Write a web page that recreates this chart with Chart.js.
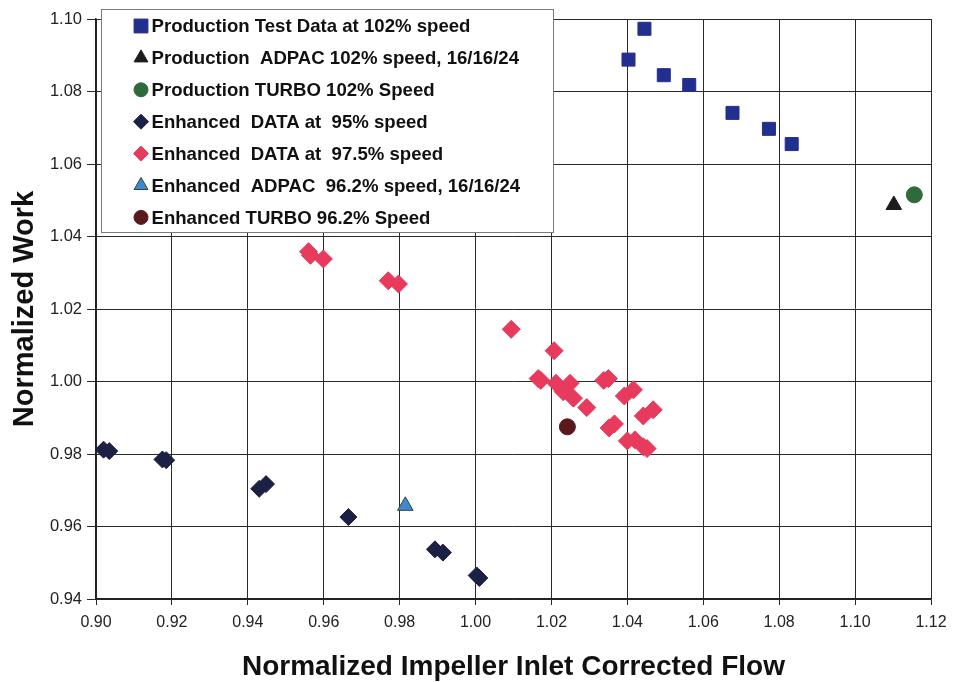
<!DOCTYPE html>
<html>
<head>
<meta charset="utf-8">
<script src="https://cdn.jsdelivr.net/npm/chart.js@4.4.1/dist/chart.umd.min.js"></script>
<style>
  body { margin: 0; background: #fff; }
  #wrap { width: 953px; height: 682px; }
</style>
</head>
<body>
<div id="wrap"><canvas id="myChart" width="953" height="682"></canvas></div>
<script>
// series labels, in legend order
const seriesNames = [
  "Production Test Data at 102% speed",
  "Production  ADPAC 102% speed, 16/16/24",
  "Production TURBO 102% Speed",
  "Enhanced  DATA at  95% speed",
  "Enhanced  DATA at  97.5% speed",
  "Enhanced  ADPAC  96.2% speed, 16/16/24",
  "Enhanced TURBO 96.2% Speed",
];

// flow (x) and work (y)
const prodTestFlow = [1.0445, 1.0403, 1.0496, 1.0563, 1.0677, 1.0773, 1.0833];
const prodTestWork = [1.0973, 1.0888, 1.0845, 1.0818, 1.0741, 1.0697, 1.0655];

const prodAdpacFlow = [1.1102];
const prodAdpacWork = [1.0487];

const prodTurboFlow = [1.1156];
const prodTurboWork = [1.0515];

const enh95Flow = [0.9020, 0.9035, 0.9175, 0.9185, 0.9430, 0.9448, 0.9665, 0.9893, 0.9914, 1.0003, 1.0010];
const enh95Work = [0.9812, 0.9808, 0.9785, 0.9783, 0.9704, 0.9717, 0.9626, 0.9537, 0.9528, 0.9465, 0.9458];

const enh975Flow = [
  0.9560, 0.9565, 0.9599, 0.9770, 0.9797, 1.0094, 1.0207, 1.0165, 1.0172,
  1.0212, 1.0249, 1.0231, 1.0258, 1.0293, 1.0338, 1.0350, 1.0392, 1.0416,
  1.0352, 1.0366, 1.0400, 1.0420, 1.0442, 1.0452, 1.0442, 1.0468,
];
const enh975Work = [
  1.0358, 1.0348, 1.0338, 1.0278, 1.0269, 1.0144, 1.0085, 1.0008, 1.0003,
  0.9995, 0.9995, 0.9972, 0.9954, 0.9928, 1.0003, 1.0008, 0.9960, 0.9977,
  0.9872, 0.9883, 0.9836, 0.9839, 0.9820, 0.9815, 0.9905, 0.9922,
];

const enhAdpacFlow = [0.9815];
const enhAdpacWork = [0.9657];

const enhTurboFlow = [1.0242];
const enhTurboWork = [0.9875];

const xTicks = [0.90, 0.92, 0.94, 0.96, 0.98, 1.00, 1.02, 1.04, 1.06, 1.08, 1.10, 1.12];
const yTicks = [0.94, 0.96, 0.98, 1.00, 1.02, 1.04, 1.06, 1.08, 1.10];

// radius = size on the plot, legendRadius = size in the legend box
const markerStyles = [
  { style: "rect",     radius: 9.2, legendRadius: 9.8, fill: "#232f8e", stroke: "#232f8e" },
  { style: "triangle", radius: 9,   legendRadius: 8,   fill: "#1c1c1c", stroke: "#1c1c1c" },
  { style: "circle",   radius: 8,   legendRadius: 7,   fill: "#2f6a3c", stroke: "#2f6a3c" },
  { style: "rectRot",  radius: 8.5, legendRadius: 7.5, fill: "#1b2044", stroke: "#1b2044" },
  { style: "rectRot",  radius: 9,   legendRadius: 7.5, fill: "#e73a5c", stroke: "#e73a5c" },
  { style: "triangle", radius: 9,   legendRadius: 8,   fill: "#4187d2", stroke: "#2a4a2a" },
  { style: "circle",   radius: 8,   legendRadius: 7,   fill: "#5a1a1c", stroke: "#5a1a1c" },
];

function toPoints(xs, ys) {
  return xs.map((x, i) => ({ x: x, y: ys[i] }));
}

const seriesData = [
  toPoints(prodTestFlow, prodTestWork),
  toPoints(prodAdpacFlow, prodAdpacWork),
  toPoints(prodTurboFlow, prodTurboWork),
  toPoints(enh95Flow, enh95Work),
  toPoints(enh975Flow, enh975Work),
  toPoints(enhAdpacFlow, enhAdpacWork),
  toPoints(enhTurboFlow, enhTurboWork),
];

const datasets = seriesNames.map((name, i) => ({
  label: name,
  data: seriesData[i],
  pointStyle: markerStyles[i].style,
  pointRadius: markerStyles[i].radius,
  pointHoverRadius: markerStyles[i].radius,
  backgroundColor: markerStyles[i].fill,
  borderColor: markerStyles[i].stroke,
  pointBorderWidth: 1,
}));

// legend box drawn inside the plot, top left
const boxLegend = {
  id: "boxLegend",
  afterDraw(chart) {
    const ctx = chart.ctx;
    const left = 101, top = 9, w = 452, h = 223;
    ctx.save();
    ctx.fillStyle = "#fff";
    ctx.strokeStyle = "#7a7a7a";
    ctx.lineWidth = 1;
    ctx.fillRect(left, top, w, h);
    ctx.strokeRect(left + 0.5, top + 0.5, w, h);
    ctx.font = "bold 18.6px 'Liberation Sans', Arial, sans-serif";
    ctx.textBaseline = "middle";
    seriesNames.forEach((name, i) => {
      const cy = 26 + i * 31.9;
      const m = markerStyles[i];
      ctx.fillStyle = m.fill;
      ctx.strokeStyle = m.stroke;
      Chart.helpers.drawPoint(ctx, {
        pointStyle: m.style,
        radius: m.legendRadius,
        rotation: 0,
        borderWidth: 1,
      }, 141, cy);
      ctx.fillStyle = "#111";
      ctx.fillText(name, 151.5, cy + 1);
    });
    ctx.restore();
  },
};

new Chart(document.getElementById("myChart"), {
  type: "scatter",
  data: { datasets: datasets },
  options: {
    responsive: false,
    animation: false,
    devicePixelRatio: 1,
    layout: { padding: { top: 19, right: 22, left: 0, bottom: 0 } },
    plugins: {
      legend: { display: false },
      tooltip: { enabled: false },
    },
    scales: {
      x: {
        type: "linear",
        min: xTicks[0],
        max: xTicks[xTicks.length - 1],
        afterFit: (s) => { s.height = 83; s.paddingRight = 0; },
        afterBuildTicks: (s) => { s.ticks = xTicks.map((v) => ({ value: v })); },
        ticks: {
          callback: (v) => v.toFixed(2),
          color: "#222",
          padding: 8,
          font: { family: "'Liberation Sans', Arial", size: 16 },
        },
        grid: { color: "#2a2a2a", lineWidth: 1, tickLength: 6 },
        border: { color: "#222", width: 1.5 },
        title: {
          display: true,
          text: "Normalized Impeller Inlet Corrected Flow",
          color: "#111",
          font: { family: "'Liberation Sans', Arial", size: 28, weight: "bold" },
          padding: { top: 0, bottom: -2 },
        },
      },
      y: {
        type: "linear",
        min: yTicks[0],
        max: yTicks[yTicks.length - 1],
        afterFit: (s) => { s.width = 96; },
        afterBuildTicks: (s) => { s.ticks = yTicks.map((v) => ({ value: v })); },
        ticks: {
          callback: (v) => v.toFixed(2),
          color: "#222",
          padding: 5,
          font: { family: "'Liberation Sans', Arial", size: 16.5 },
        },
        grid: { color: "#2a2a2a", lineWidth: 1, tickLength: 9 },
        border: { color: "#222", width: 1.5 },
        title: {
          display: true,
          text: "Normalized Work",
          color: "#111",
          font: { family: "'Liberation Sans', Arial", size: 29, weight: "bold" },
          padding: { top: 8, bottom: 0 },
        },
      },
    },
  },
  plugins: [boxLegend],
});
</script>
</body>
</html>
